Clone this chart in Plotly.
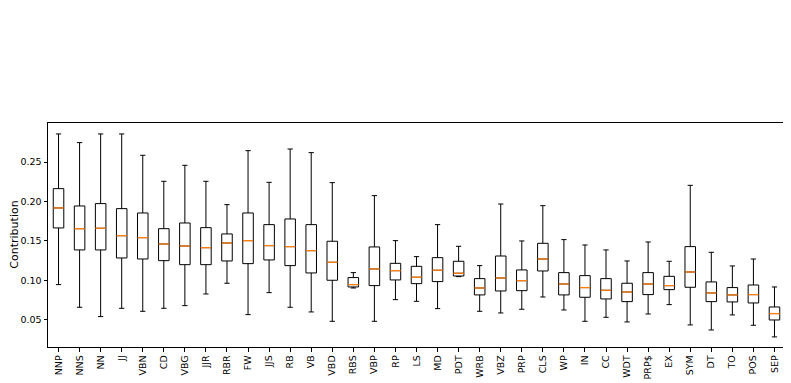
import plotly.graph_objects as go

# per-tag contribution statistics
tags = ['NNP', 'NNS', 'NN', 'JJ', 'VBN', 'CD', 'VBG', 'JJR', 'RBR', 'FW', 'JJS',
        'RB', 'VB', 'VBD', 'RBS', 'VBP', 'RP', 'LS', 'MD', 'PDT', 'WRB', 'VBZ',
        'PRP', 'CLS', 'WP', 'IN', 'CC', 'WDT', 'PRP$', 'EX', 'SYM', 'DT', 'TO',
        'POS', 'SEP']
upper = [0.2856, 0.2746, 0.2856, 0.2856, 0.2585, 0.2255, 0.2458, 0.2255, 0.1959, 0.2644, 0.2242,
         0.2665, 0.2619, 0.2238, 0.1096, 0.2073, 0.1502, 0.1299, 0.1705, 0.1430, 0.1185, 0.1967,
         0.1498, 0.1946, 0.1515, 0.1447, 0.1384, 0.1244, 0.1485, 0.1240, 0.2204, 0.1354, 0.1181,
         0.1269, 0.0914]
q3 = [0.2162, 0.1942, 0.1972, 0.1908, 0.1853, 0.1654, 0.1726, 0.1667, 0.1587, 0.1853, 0.1705,
      0.1777, 0.1705, 0.1494, 0.1033, 0.1422, 0.1214, 0.1176, 0.1286, 0.1240, 0.1020, 0.1307,
      0.1130, 0.1468, 0.1096, 0.1058, 0.1020, 0.0961, 0.1096, 0.1049, 0.1426, 0.0978, 0.0906,
      0.0939, 0.0660]
median = [0.1917, 0.1654, 0.1659, 0.1565, 0.1540, 0.1460, 0.1434, 0.1413, 0.1472, 0.1502, 0.1439,
          0.1426, 0.1375, 0.1227, 0.0944, 0.1143, 0.1121, 0.1037, 0.1126, 0.1088, 0.0901, 0.1028,
          0.0994, 0.1269, 0.0952, 0.0906, 0.0872, 0.0851, 0.0952, 0.0931, 0.1104, 0.0838, 0.0813,
          0.0817, 0.0576]
q1 = [0.1663, 0.1384, 0.1384, 0.1282, 0.1269, 0.1248, 0.1197, 0.1197, 0.1244, 0.1210, 0.1257,
      0.1185, 0.1092, 0.0999, 0.0914, 0.0931, 0.1003, 0.0956, 0.0982, 0.1053, 0.0813, 0.0863,
      0.0867, 0.1117, 0.0813, 0.0783, 0.0762, 0.0728, 0.0817, 0.0880, 0.0910, 0.0728, 0.0724,
      0.0711, 0.0495]
lower = [0.0944, 0.0656, 0.0538, 0.0643, 0.0605, 0.0643, 0.0677, 0.0825, 0.0961, 0.0563, 0.0842,
         0.0656, 0.0597, 0.0478, 0.0901, 0.0478, 0.0753, 0.0732, 0.0639, 0.1045, 0.0605, 0.0584,
         0.0631, 0.0787, 0.0622, 0.0478, 0.0529, 0.0470, 0.0571, 0.0690, 0.0432, 0.0368, 0.0559,
         0.0428, 0.0280]

pos = list(range(1, len(tags) + 1))
box_w = 0.5

fig = go.Figure()
fig.add_trace(go.Box(
    x=pos, q1=q1, median=median, q3=q3,
    lowerfence=lower, upperfence=upper,
    width=box_w, whiskerwidth=0.5,
    fillcolor='white', line=dict(color='black', width=1),
    boxpoints=False, hoverinfo='skip', showlegend=False,
))

# orange median lines drawn over the boxes
mx, my = [], []
for p, m in zip(pos, median):
    mx += [p - box_w / 2, p + box_w / 2, None]
    my += [m, m, None]
fig.add_trace(go.Scatter(x=mx, y=my, mode='lines',
                         line=dict(color='#ff7f0e', width=1.3),
                         hoverinfo='skip', showlegend=False))

axis_style = dict(showline=True, linecolor='black', linewidth=1, mirror=True,
                  ticks='outside', ticklen=3.5, tickcolor='black',
                  showgrid=False, zeroline=False, automargin=False,
                  tickfont=dict(family='DejaVu Sans', size=9.5, color='black'))

fig.update_xaxes(range=[0.5, len(tags) + 0.5], tickvals=pos, ticktext=tags,
                 tickangle=-90, **axis_style)
fig.update_yaxes(range=[0.0152, 0.2995], tickvals=[0.05, 0.10, 0.15, 0.20, 0.25],
                 ticktext=['0.05', '0.10', '0.15', '0.20', '0.25'],
                 **axis_style)

fig.add_annotation(text='Contribution', xref='paper', yref='paper',
                   x=-0.0466, y=0.5, xanchor='center', yanchor='middle',
                   textangle=-90, showarrow=False,
                   font=dict(family='DejaVu Sans', size=11, color='black'))

# page body keeps its default 8px margin, so the figure is 8px smaller
fig.update_layout(
    width=783, height=375,
    margin=dict(l=40, r=6, t=115, b=36),
    plot_bgcolor='white', paper_bgcolor='white',
)

fig.write_html("out.html")
